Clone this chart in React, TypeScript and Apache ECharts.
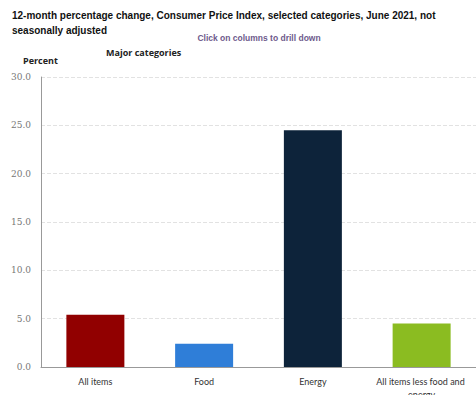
import React, { useEffect, useRef } from "react";
import * as echarts from "echarts";

const categories = ["All items", "Food", "Energy", "All items less food and energy"];
const values = [5.4, 2.4, 24.5, 4.5];
const barColors = ["#910000", "#2f7ed8", "#0d233a", "#8bbc21"];
const yTicks = { min: 0, max: 30, interval: 5 };

export default function App() {
  const ref = useRef<HTMLDivElement>(null);
  useEffect(() => {
    if (!ref.current) return;
    const chart = echarts.init(ref.current, null, { renderer: "svg" });
    chart.setOption({
      animation: false,
      backgroundColor: "#ffffff",
      grid: { left: 41, right: 0, top: 77, bottom: 28, containLabel: false, outerBoundsMode: "none" },
      graphic: [
        {
          type: "text",
          left: 12,
          top: 8,
          style: {
            text: "12-month percentage change, Consumer Price Index, selected categories, June 2021, not\nseasonally adjusted",
            font: "bold 10px 'Liberation Sans', Arial, sans-serif",
            fill: "#111",
            lineHeight: 15,
          },
        },
        {
          type: "text",
          x: 259,
          y: 38,
          style: {
            text: "Click on columns to drill down",
            font: "bold 8.5px 'Liberation Sans', Arial, sans-serif",
            fill: "#6e5a8c",
            align: "center",
            verticalAlign: "middle",
          },
        },
        {
          type: "text",
          x: 106,
          y: 52,
          style: {
            text: "Major categories",
            font: "bold 9px 'Open Sans', sans-serif",
            fill: "#222",
            verticalAlign: "middle",
          },
        },
        {
          type: "text",
          x: 23,
          y: 60,
          style: {
            text: "Percent",
            font: "bold 9px 'Open Sans', sans-serif",
            fill: "#222",
            verticalAlign: "middle",
          },
        },
      ],
      xAxis: {
        type: "category",
        data: categories,
        axisLine: { show: true, lineStyle: { color: "#999", width: 1 } },
        axisTick: { show: false },
        axisLabel: {
          color: "#333",
          fontSize: 9,
          fontFamily: "Lato, 'Open Sans', sans-serif",
          margin: 8,
          width: 100,
          overflow: "break",
          interval: 0,
          lineHeight: 13,
        },
      },
      yAxis: {
        type: "value",
        min: yTicks.min,
        max: yTicks.max,
        interval: yTicks.interval,
        axisLine: { show: true, lineStyle: { color: "#999", width: 1 } },
        axisTick: { show: false },
        axisLabel: {
          color: "#777",
          fontSize: 9,
          fontFamily: "'DejaVu Serif', 'Liberation Serif', serif",
          margin: 10,
          formatter: (v: number) => v.toFixed(1),
        },
        splitLine: { show: true, lineStyle: { color: "#e2e2e2", type: "dashed", width: 1 } },
      },
      series: [
        {
          type: "bar",
          barWidth: 58,
          data: values.map((v, i) => ({ value: v, itemStyle: { color: barColors[i] } })),
        },
      ],
    });
    return () => chart.dispose();
  }, []);
  return (
    <div
      ref={ref}
      style={{ position: "fixed", left: 0, top: 0, width: 476, height: 395, background: "#fff" }}
    />
  );
}
